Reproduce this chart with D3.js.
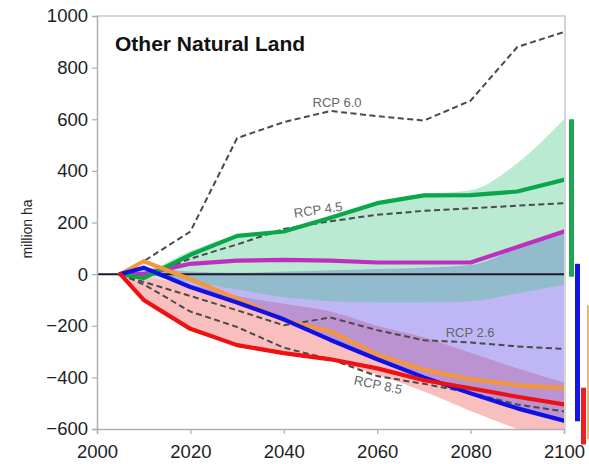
<!DOCTYPE html>
<html>
<head>
<meta charset="utf-8">
<script src="https://cdn.jsdelivr.net/npm/d3@7"></script>
<style>
  html, body { margin: 0; padding: 0; background: #fff; }
  svg { display: block; font-family: "Liberation Sans", Arial, sans-serif; }
</style>
</head>
<body>
<svg id="chart" width="589" height="464"></svg>
<script>
// Change in other natural land area (million ha) relative to 2005
const years = [2005, 2010, 2020, 2030, 2040, 2050, 2060, 2070, 2080, 2090, 2100];

// Model trajectories
const greenLine   = [0, -15, 75, 148, 165, 218, 275, 305, 306, 320, 365];
const magentaLine = [0, 0, 40, 52, 55, 52, 45, 45, 45, 105, 165];
const orangeLine  = [0, 50, -20, -95, -178, -222, -312, -370, -408, -430, -442];
const blueLine    = [0, 25, -50, -110, -175, -255, -330, -400, -462, -520, -568];
const redLine     = [0, -100, -212, -275, -306, -330, -365, -411, -442, -475, -505];

// RCP scenario trajectories (dashed)
const rcp60 = [0, 50, 165, 527, 589, 632, 612, 595, 672, 880, 938];
const rcp45 = [0, -10, 60, 115, 175, 205, 230, 245, 255, 265, 275];
const rcp26 = [0, -30, -85, -140, -198, -168, -217, -256, -265, -280, -290];
const rcp85 = [0, -40, -145, -205, -285, -330, -395, -425, -460, -505, -532];

// Uncertainty ranges
const greenHi = [0, 10, 90, 150, 172, 222, 278, 310, 325, 430, 600];
const greenLo = [0, -10, -30, -60, -90, -105, -110, -110, -105, -75, -40];
const blueHi  = [0, 25, 10, 5, 10, 15, 20, 25, 35, 100, 160];
const blueLo  = [0, 0, -50, -110, -178, -255, -330, -400, -462, -520, -568];
const redHi   = [0, -10, -40, -85, -115, -145, -200, -245, -305, -365, -420];
const redLo   = [0, -100, -212, -275, -306, -335, -390, -455, -530, -600, -660];

// 2100 ranges shown beside the plot
const rangeBars = [
  { name: "green",  lo: -10,  hi: 600,  color: "#1fa653", step: 0 },
  { name: "blue",   lo: -570, hi: 40,   color: "#1414e6", step: 1 },
  { name: "red",    lo: -660, hi: -440, color: "#ec2020", step: 2 },
  { name: "orange", lo: -640, hi: -120, color: "#f7b27a", step: 3 }
];

const yTicks = [-600, -400, -200, 0, 200, 400, 600, 800, 1000];
const xTicks = [2000, 2020, 2040, 2060, 2080, 2100];

const scenarioLabels = [
  { text: "RCP 6.0", year: 2051.4, value: 647,  angle: 0 },
  { text: "RCP 4.5", year: 2047.5, value: 232,  angle: -8 },
  { text: "RCP 2.6", year: 2079.9, value: -244, angle: 0 },
  { text: "RCP 8.5", year: 2060.0, value: -446, angle: 12 }
];

const svg = d3.select("#chart");
const x = d3.scaleLinear().domain([2000, 2100]).range([97, 564]);
const y = d3.scaleLinear().domain([-600, 1000]).range([429, 16]);

svg.append("defs").append("clipPath").attr("id", "plotClip")
  .append("rect")
  .attr("x", x(2000)).attr("y", y(1000))
  .attr("width", x(2100) - x(2000)).attr("height", y(-600) - y(1000));

const plot = svg.append("g").attr("clip-path", "url(#plotClip)");

// Bands (red first, then blue, then green on top)
function band(hi, lo, color, opacity) {
  const area = d3.area()
    .x((d, i) => x(years[i]))
    .y0((d, i) => y(lo[i]))
    .y1((d, i) => y(hi[i]))
    .curve(d3.curveMonotoneX);
  plot.append("path").datum(hi)
    .attr("d", area)
    .attr("fill", color)
    .attr("fill-opacity", opacity);
}
band(redHi, redLo, "#f06060", 0.4);
band(blueHi, blueLo, "#6d5ce8", 0.44);
band(greenHi, greenLo, "#43c486", 0.36);

// Zero line
plot.append("line")
  .attr("x1", x(2000)).attr("x2", x(2100))
  .attr("y1", y(0)).attr("y2", y(0))
  .attr("stroke", "#1b1b2b").attr("stroke-width", 2);

const line = d3.line()
  .x((d, i) => x(years[i]))
  .y(d => y(d));

// Scenario lines
[rcp60, rcp45, rcp26, rcp85].forEach(s => {
  plot.append("path").datum(s)
    .attr("d", line)
    .attr("fill", "none")
    .attr("stroke", "#4a4a4a")
    .attr("stroke-width", 2)
    .attr("stroke-dasharray", "6,3.5");
});

// Model lines
const models = [
  { data: magentaLine, color: "#c02ec0" },
  { data: greenLine,   color: "#0aa64a" },
  { data: orangeLine,  color: "#f3963e" },
  { data: blueLine,    color: "#0f0fe8" },
  { data: redLine,     color: "#ee1111" }
];
models.forEach(m => {
  plot.append("path").datum(m.data)
    .attr("d", line)
    .attr("fill", "none")
    .attr("stroke", m.color)
    .attr("stroke-width", 4.2)
    .attr("stroke-linejoin", "round")
    .attr("stroke-linecap", "round");
});

// Scenario labels
scenarioLabels.forEach(l => {
  svg.append("text")
    .attr("transform", `translate(${x(l.year)},${y(l.value)}) rotate(${l.angle})`)
    .attr("text-anchor", "middle")
    .attr("font-size", 13)
    .attr("fill", "#666")
    .text(l.text);
});

// Frame (top and right)
svg.append("path")
  .attr("d", `M${x(2000)},${y(1000)}H${x(2100) + 1}V${y(-600)}`)
  .attr("fill", "none")
  .attr("stroke", "#c9c9c9")
  .attr("stroke-width", 1.5);

// Axes
const yAxis = svg.append("g")
  .attr("transform", `translate(${x(2000)},0)`)
  .call(d3.axisLeft(y).tickValues(yTicks).tickSize(5).tickPadding(4).tickFormat(d3.format("d")));
const xAxis = svg.append("g")
  .attr("transform", `translate(0,${y(-600)})`)
  .call(d3.axisBottom(x).tickValues(xTicks).tickSize(5).tickPadding(11).tickFormat(d3.format("d")));
[yAxis, xAxis].forEach(g => {
  g.select(".domain").attr("stroke", "#b0b0b0").attr("stroke-width", 1.5);
  g.selectAll(".tick line").attr("stroke", "#b0b0b0").attr("stroke-width", 1.2);
  g.selectAll(".tick text")
    .attr("font-size", 18.5)
    .attr("font-family", "'Liberation Sans', Arial, sans-serif")
    .attr("fill", "#1e1e1e");
});

// Range bars at 2100
rangeBars.forEach(b => {
  svg.append("rect")
    .attr("x", x(2100) + 5 + b.step * 6)
    .attr("y", y(b.hi))
    .attr("width", 5)
    .attr("height", y(b.lo) - y(b.hi))
    .attr("fill", b.color);
});

// Title and axis label
svg.append("text")
  .attr("x", 115).attr("y", 51)
  .attr("font-size", 21).attr("font-weight", "bold")
  .attr("fill", "#111")
  .text("Other Natural Land");

svg.append("text")
  .attr("transform", "translate(32,229) rotate(-90)")
  .attr("text-anchor", "middle")
  .attr("font-size", 14)
  .attr("fill", "#222")
  .text("million ha");
</script>
</body>
</html>
